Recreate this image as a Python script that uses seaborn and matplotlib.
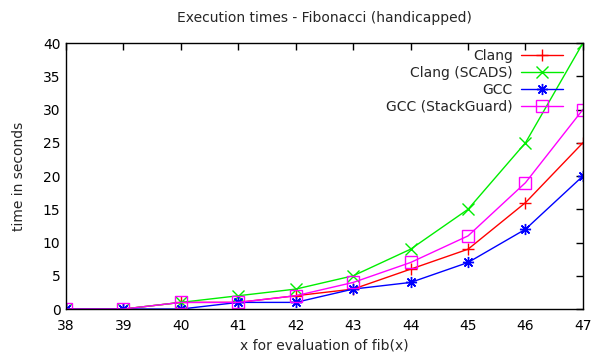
import pandas as pd
import matplotlib
matplotlib.use("Agg")
import matplotlib.pyplot as plt
import seaborn as sns

# values
fib_n = [38, 39, 40, 41, 42, 43, 44, 45, 46, 47]
clang = [0, 0, 1, 1, 2, 3, 6, 9, 16, 25]
clang_scads = [0, 0, 1, 2, 3, 5, 9, 15, 25, 40]
gcc = [0, 0, 0, 1, 1, 3, 4, 7, 12, 20]
gcc_stackguard = [0, 0, 1, 1, 2, 4, 7, 11, 19, 30]

series = {
    "Clang": clang,
    "Clang (SCADS)": clang_scads,
    "GCC": gcc,
    "GCC (StackGuard)": gcc_stackguard,
}
colors = {"Clang": "#ff0000", "Clang (SCADS)": "#00ee00",
          "GCC": "#0000ff", "GCC (StackGuard)": "#ff00ff"}
markers = {"Clang": "+", "Clang (SCADS)": "x",
           "GCC": (8, 2, 0), "GCC (StackGuard)": "s"}

sns.set_style("white")
plt.rcParams["font.family"] = ["DejaVu Sans"]
plt.rcParams["font.size"] = 10

fig, ax = plt.subplots(figsize=(5.93, 3.54), dpi=100)
fig.subplots_adjust(left=0.1113, right=0.983, top=0.8785, bottom=0.127)

for name, vals in series.items():
    df = pd.DataFrame({"n": fib_n, "t": vals})
    c = colors[name]
    sns.lineplot(data=df, x="n", y="t", ax=ax, color=c, label=name,
                 marker=markers[name], markersize=8, linewidth=1,
                 markeredgecolor=c, markeredgewidth=1,
                 markerfacecolor="none")

ax.set_xlim(38, 47)
ax.set_ylim(0, 40)
ax.set_xticks(fib_n)
ax.set_yticks(range(0, 41, 5))
ax.tick_params(direction="in", top=True, right=True, length=5, width=1,
               labelsize=10, colors="black", pad=4)
ax.tick_params(axis="x", pad=7)
for s in ax.spines.values():
    s.set_color("black")
    s.set_linewidth(1)

ax.set_title("Execution times - Fibonacci (handicapped)", fontsize=10, pad=15)
ax.set_xlabel("x for evaluation of fib(x)", fontsize=10, labelpad=4)
ax.set_ylabel("time in seconds", fontsize=10, labelpad=12)

ax.legend(loc="upper right", frameon=False, markerfirst=False, fontsize=10,
          handlelength=3.0, labelspacing=0.22, handletextpad=0.6,
          borderaxespad=0.3, bbox_to_anchor=(0.98, 1.015))

plt.savefig("out.png", dpi=100)
